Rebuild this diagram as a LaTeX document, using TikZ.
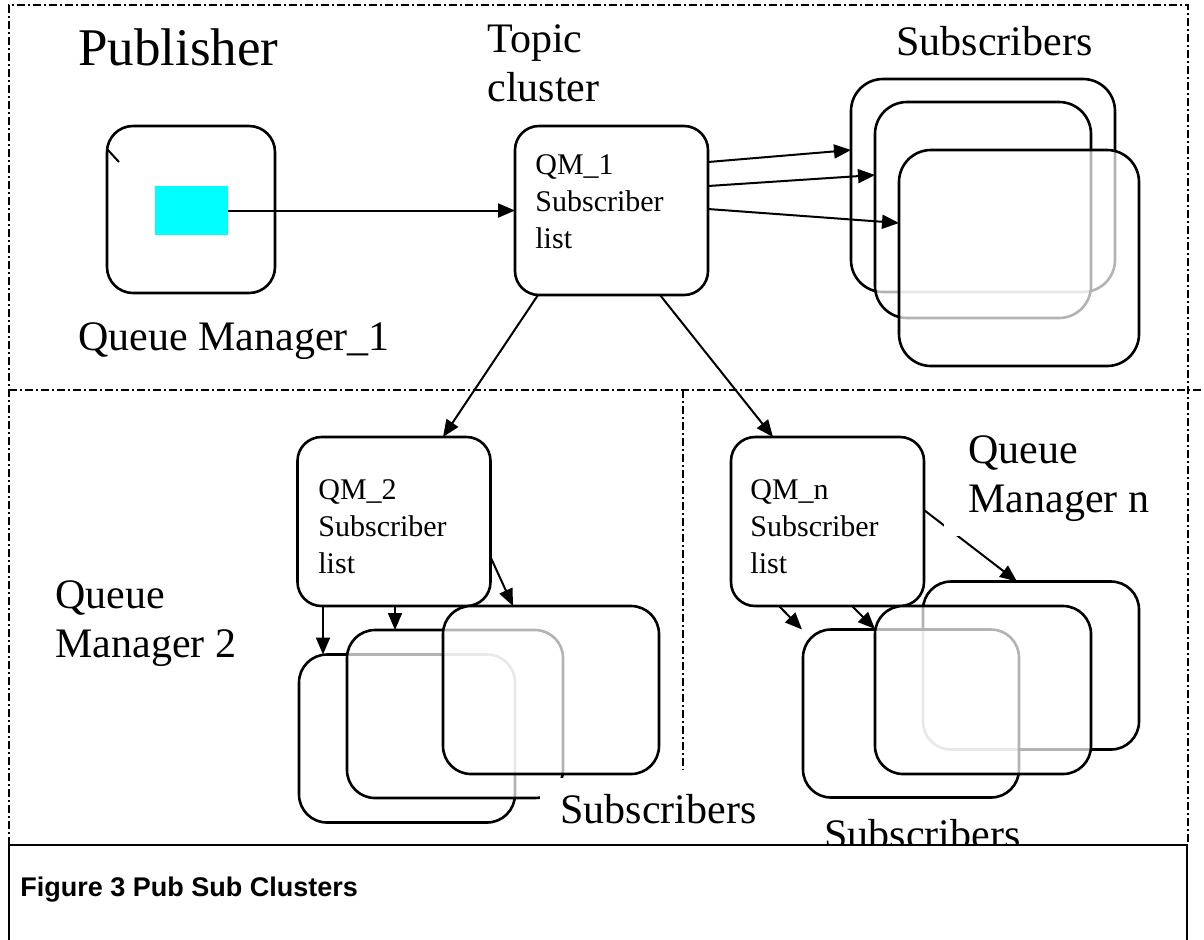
\documentclass[tikz,border=0pt]{standalone}
\usepackage{fontspec}
\setmainfont{Liberation Serif}
\newfontfamily\capfont{Liberation Sans}
\usetikzlibrary{arrows.meta}
\definecolor{aqua}{RGB}{0,255,255}
\begin{document}
\begin{tikzpicture}[x=0.5pt,y=-0.5pt,
  frame/.style={line width=0.75pt, dash pattern=on 4pt off 1.5pt on 1pt off 1.5pt},
  box/.style={draw, line width=1.3pt, rounded corners=12pt, fill=white,
    inner sep=0pt, outer sep=0pt},
  stackbox/.style={box, fill opacity=0.7, rounded corners=14pt,
    minimum width=108pt, minimum height=84pt},
  qmbox/.style={box, minimum width=96.5pt, minimum height=84.5pt},
  arr/.style={line width=1pt, -{Triangle[length=8.5pt,width=7pt]}},
  big/.style={font=\fontsize{21}{24.5}\selectfont, align=left, inner sep=0pt, anchor=base west},
  listtxt/.style={font=\fontsize{15}{18.5}\selectfont, align=left, inner sep=0pt, anchor=base west},
]
\clip (0,0) rectangle (1204,939);
\fill[white] (0,0) rectangle (1204,939);

% dash-dotted partition lines
\draw[frame] (9,845) -- (9,5) -- (1188,5) -- (1188,845);
\draw[frame] (9,390) -- (1204,390);
\draw[frame] (683,390) -- (683,770);

% publisher queue manager
\node[box, rounded corners=13pt, minimum width=84pt, minimum height=83.5pt] (pub) at (191,209.5) {};
\draw[line width=1pt] ([yshift=-11.5pt]pub.north west) -- ++(6pt,-6.5pt);
\node[fill=aqua, inner sep=0pt, minimum width=36.5pt, minimum height=24.5pt] (msg) at (191.5,210.5) {};

% topic cluster queue managers
\node[qmbox] (qm1) at (611.5,210.5) {};
\node[qmbox] (qm2) at (394,521.5) {};
\node[qmbox] (qmn) at (827.5,521.5) {};

% subscribers of QM_1
\node[stackbox, minimum width=132pt, minimum height=106.5pt, rounded corners=16pt] (s1a) at (983,185.5) {};
\node[stackbox, minimum height=108pt, rounded corners=16pt] (s1b) at (983,210) {};
\node[stackbox, minimum width=120pt, minimum height=108pt, rounded corners=16pt] (s1c) at (1019,258) {};

% subscribers of QM_2
\node[stackbox] (s2a) at (407,738.5) {};
\node[stackbox] (s2b) at (455,714) {};
\node[stackbox] (s2c) at (551,690) {};

% subscribers of QM_n
\node[stackbox] (snc) at (1031,665.5) {};
\node[stackbox] (sna) at (911,713.5) {};
\node[stackbox] (snb) at (983,690) {};

% labels (multi-line nodes sit on the baseline of their last line)
\node[big, font=\fontsize{26.5}{30}\selectfont] (lpub) at (78,65) {Publisher};
\node[big] (ltopic) at (487,101) {Topic\\cluster};
\node[big] (lsubs1) at (896,55) {Subscribers};
\node[big] (lqm1) at (78,350) {Queue Manager\_1};
\node[big] (lqm2) at (55,657) {Queue\\Manager 2};

\node[listtxt] (t1) at (535,248) {QM\_1\\Subscriber\\list};
\node[listtxt] (t2) at (318,573) {QM\_2\\Subscriber\\list};
\node[listtxt] (tn) at (750,573) {QM\_n\\Subscriber\\list};

% connectors
\draw[arr] (msg.east) -- (qm1.west);
\draw[arr] ([yshift=24.25pt]qm1.east) -- ([yshift=17.75pt]s1a.west);
\draw[arr] ([yshift=12.25pt]qm1.east) -- ([yshift=17.5pt]s1b.west);
\draw[arr] ([yshift=0.75pt]qm1.east) -- ([yshift=17.5pt]s1c.west);
\draw[arr] ([xshift=-36.75pt]qm1.south) -- ([xshift=24.5pt]qm2.north);
\draw[arr] ([xshift=24.25pt]qm1.south) -- ([xshift=-27.25pt]qmn.north);

\draw[arr] ([xshift=-35.5pt]qm2.south) -- ([xshift=-42pt]s2a.north);
\draw[arr] ([xshift=0.5pt]qm2.south) -- ([xshift=-30pt]s2b.north);
\draw[arr] ([yshift=-17.75pt]qm2.east) -- ([xshift=-19pt]s2c.north);

\draw[arr] ([xshift=-24.25pt]qmn.south) -- ([xshift=-54.5pt]sna.north);
\draw[arr] ([xshift=12.25pt]qmn.south) -- ([yshift=30.5pt]snb.west);
\draw[arr] ([yshift=5.75pt]qmn.east) -- ([xshift=-7pt]snc.north);

% labels with an opaque background
\node[big, fill=white, inner xsep=12pt, inner ysep=7.5pt] (lqmn) at (944,512) {Queue\\Manager n};
\node[big, fill=white, inner xsep=10pt, inner ysep=8pt] (lsubs2) at (540,823) {Subscribers};
\node[big] (lsubsn) at (824,848) {Subscribers};

% caption frame
\draw[line width=1pt, fill=white] (9,845) rectangle (1187,990);
\node[font=\capfont\bfseries\fontsize{13.5}{16}\selectfont, inner sep=0pt, anchor=base west] (capt) at (20,896) {Figure 3 Pub Sub Clusters};
\end{tikzpicture}
\end{document}
